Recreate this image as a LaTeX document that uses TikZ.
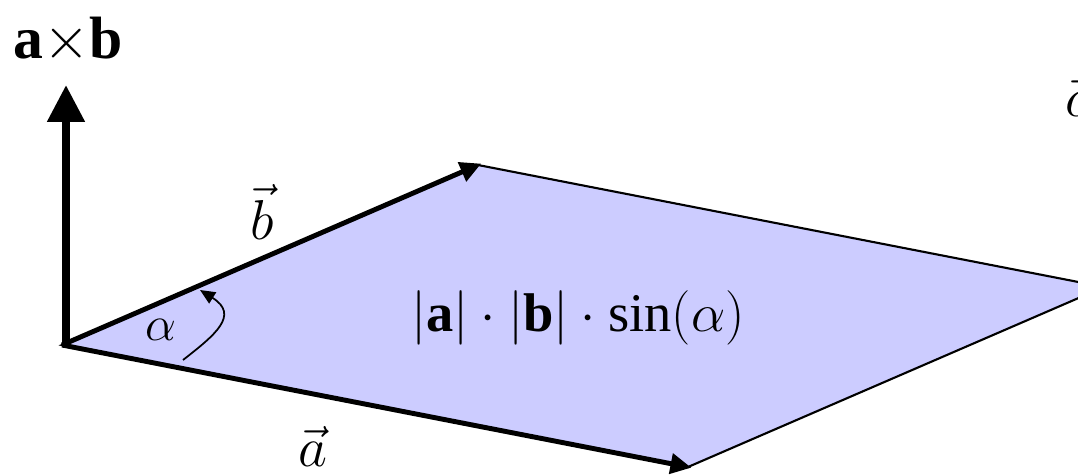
\RequirePackage{fix-cm}
\documentclass[tikz,border=0pt]{standalone}
\usepackage{fontspec}
\setmainfont{Liberation Serif}
\usetikzlibrary{arrows.meta}
\definecolor{areafill}{RGB}{204,204,255}
\begin{document}
\begin{tikzpicture}[
    x=0.02cm, y=-0.02cm,
    font=\fontsize{28}{32}\selectfont,
    area/.style={draw, line width=1.2pt, fill=areafill},
    vect/.style={line width=2.8pt, -{Triangle[length=0.42cm, width=0.4cm]}},
    normal/.style={line width=4.6pt, -{Triangle[length=0.74cm, width=0.72cm]}},
    angarc/.style={line width=1pt, -{Triangle[length=0.3cm, width=0.26cm]}},
    veclabel/.style={font=\fontsize{32}{38}\selectfont}
]
    \useasboundingbox (0,0) rectangle (1078,476);

    % Ecken des Parallelogramms
    \coordinate (O) at (62,345);
    \coordinate (A) at (688,467);
    \coordinate (B) at (478,165);
    \coordinate (C) at (1104,287);
    \coordinate (N) at (66,85);

    % Flaeche
    \draw[area] (O) -- (A) -- (C) -- (B) -- cycle;

    % Vektoren
    \draw[vect, shorten >=-2pt] (O) -- (A);
    \draw[vect, shorten >=-2pt] (O) -- (B);
    \draw[normal] (66,347) -- (N);

    % Winkel
    \coordinate (w1) at (183,360);
    \coordinate (w2) at (200,290);
    \draw[angarc] (w1) .. controls (215,335) and (240,315) .. (w2);

    % Beschriftungen
    \node[font=\fontsize{34}{40}\selectfont] (axb) at (68,40) {\textbf{a}$\times$\textbf{b}};
    \node[veclabel] (lb) at (262,212) {$\vec{b}$};
    \node[veclabel] (la) at (313,446) {$\vec{a}$};
    \node (lal) at (161,330) {$\alpha$};
    \node[veclabel] (lc) at (1077,96) {$\vec{c}$};
    \node[font=\fontsize{31}{36}\selectfont] (flaeche) at (578,318)
        {$\Bigl|\textbf{a}\Bigr|\cdot\Bigl|\textbf{b}\Bigr|\cdot\sin(\alpha)$};
\end{tikzpicture}
\end{document}
